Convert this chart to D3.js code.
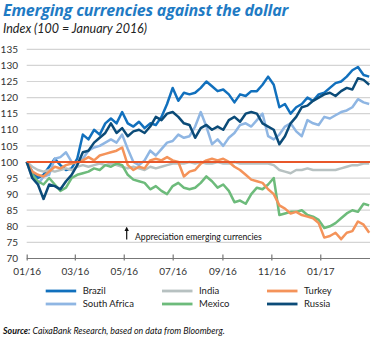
<!DOCTYPE html>
<html><head><meta charset="utf-8">
<script src="https://cdn.jsdelivr.net/npm/d3@7/dist/d3.min.js"></script>
<style>
body{margin:0;background:#fff}
svg{display:block;font-family:Lato,"Open Sans",sans-serif}
</style>
</head><body>
<svg id="chart" width="374" height="338"></svg>
<script>
// ---- data ----
const firstWeek = "2016-01-01";   // weekly observations start
const lastDate = "2017-03-04";
const yTicks = [70,75,80,85,90,95,100,105,110,115,120,125,130,135];
const xTickDates = ["2016-01-01","2016-03-01","2016-05-01","2016-07-01","2016-09-01","2016-11-01","2017-01-01"];
const xTickLabels = ["01/16","03/16","05/16","07/16","09/16","11/16","01/17"];
const seriesNames = ["Brazil","South Africa","India","Mexico","Turkey","Russia"];
const seriesColors = ["#1170bd","#8fb6e3","#b7c1c1","#6dbb7b","#f4935a","#0b4b78"];

const brazil = [100,97,95,96,98.5,101,99,97.5,98,101,108.5,107,110,108.5,112,113.5,112,115.5,112,111,
  112.5,110.5,112,111.5,114,118,123,119,121.5,121,121.5,123,125,123.5,122,122.5,121,118.5,121,120.5,
  122,122,124,126.5,124,117,118,115,117,118,120,119,121,121.5,123,124.5,125,126.5,128.5,129.5,127,126.5];
const southAfrica = [100,95,93,95.5,96,101,101.5,103,100,99.5,101,103.5,104.5,105,106,107,106,108.5,104,100,
  99,100.5,103.5,102,104,106,106.5,108.5,107.5,108,111,115.5,111,105.5,107,105,107.5,109,111.5,112,
  111,113,115,108,107,108.5,111,112,109.5,108,113,112,111.5,114,113.5,114.5,115.5,116,117,119.5,118.5,118];
const india = [100,98.5,97.5,97,97.5,97,97.5,98,97.5,98.5,99,98.5,99,99.5,99,99.5,99,98.5,98,98.5,
  98,97.5,98.5,98,98.5,99,99.5,99.5,99.5,100,99.5,100,99.5,99.5,100,99.5,99.5,100,99.5,99.5,
  99.5,99.5,99.5,99.5,99,97.5,97,96.5,97.5,97.5,98,97.5,97.5,97.5,97.5,97.5,98,98.5,99,99,99.5,99.5];
const mexico = [100,96,94,93,95,93,91,92,95,96,96.5,97,98,97.5,99,98.5,99.5,99,96,94.5,
  94,93.5,91.5,92.5,91,90,92.5,93.5,92,91.5,92,93.5,95.5,94,92,93,91,87.5,88,87,
  90,92,91.5,93,95,83.5,84,84.5,84.5,85,83.5,83,82,79.5,80,81,82.5,84,85,84.5,87,86.5];
const turkey = [100,97,96,95.5,97,98.5,98,99,99.5,100,100.5,101.5,100.5,102,102.5,103,103.5,104.5,99,97.5,
  98.5,98,100.5,101,100.5,101.5,100.5,100,95.5,97,97.5,99.5,100.5,101,100.5,101,100,98.5,97.5,96,
  94.5,94,93.5,91.5,90,86.5,85.5,84,84.5,83.5,83,82.5,81,76.5,77,78,76,78,78.5,81.5,80.5,78];
const russia = [100,95,93,88.5,93,92.5,91.5,94,96,99,103,103.5,106,107.5,109,112,109,110.5,108,109.5,
  110,109,111,114,113,115,115.5,114,112,111.5,107.5,110.5,111.5,110,111,110,113,114,112.5,115,
  115.5,115,112,111,110,105.5,108,112,114,117,117.5,119,120,121,121.5,120.5,122,123,122.5,126,125.5,124];
const seriesValues = [brazil, southAfrica, india, mexico, turkey, russia];

// ---- chart ----
const svg = d3.select("#chart");
const parse = d3.timeParse("%Y-%m-%d");
const t0 = parse(firstWeek);
const dates = brazil.map((_, i) => d3.timeDay.offset(t0, 7 * i));

const x = d3.scaleTime().domain([parse(firstWeek), parse(lastDate)]).range([26.7, 370]);
const y = d3.scaleLinear().domain([70, 135]).range([258.5, 49.3]);

// fit a text element's font size so it spans a target width
function fit(sel, width) {
  const fs = +sel.attr("font-size");
  const w = sel.node().getComputedTextLength();
  if (w > 0) sel.attr("font-size", (fs * width / w).toFixed(2));
  return sel;
}

// title
fit(svg.append("text").attr("x", 3).attr("y", 16)
  .attr("font-size", 14).attr("font-weight", "bold").attr("font-style", "italic")
  .attr("font-family", "'Open Sans',sans-serif").attr("letter-spacing", -0.2)
  .attr("fill", "#1f7bc4").text("Emerging currencies against the dollar"), 284);
fit(svg.append("text").attr("x", 3).attr("y", 33)
  .attr("font-size", 11.5).attr("font-style", "italic").attr("fill", "#222")
  .text("Index (100 = January 2016)"), 144);

// gridlines
svg.append("g").selectAll("line").data(yTicks.filter(d => d > 70)).join("line")
  .attr("x1", 26.7).attr("x2", 370).attr("y1", d => y(d)).attr("y2", d => y(d))
  .attr("stroke", "#d4d4d4").attr("stroke-width", 1.2);

// y axis labels
const yAxis = d3.axisLeft(y).tickValues(yTicks).tickSize(0).tickPadding(0);
const gy = svg.append("g").attr("transform", "translate(18,0)").call(yAxis);
gy.select(".domain").remove();
gy.selectAll("text").attr("font-size", 10).attr("fill", "#333").attr("font-family", "Lato,sans-serif");

// x axis
const xAxis = d3.axisBottom(x).tickValues(xTickDates.map(parse))
  .tickFormat((d, i) => xTickLabels[i]).tickSize(3).tickPadding(6);
const gx = svg.append("g").attr("transform", `translate(0,${y(70)})`).call(xAxis);
gx.select(".domain").attr("d", `M26.7,0H370`).attr("stroke", "#777").attr("stroke-width", 1.2);
gx.selectAll(".tick line").attr("y1", -4).attr("y2", 2).attr("stroke", "#777").attr("stroke-width", 1.2);
gx.selectAll("text").attr("font-size", 10).attr("fill", "#333").attr("font-family", "Lato,sans-serif");

// series
const line = d3.line().x((d, i) => x(dates[i])).y(d => y(d));
svg.append("g").selectAll("path").data(seriesValues).join("path")
  .attr("d", d => line(d)).attr("fill", "none")
  .attr("stroke", (d, i) => seriesColors[i]).attr("stroke-width", 2.5)
  .attr("stroke-linejoin", "round");

// 100 reference line
svg.append("line").attr("x1", 26.7).attr("x2", 370).attr("y1", y(100)).attr("y2", y(100))
  .attr("stroke", "#e8572a").attr("stroke-width", 2);

// annotation
svg.append("defs").append("marker").attr("id", "ah").attr("viewBox", "0 0 10 10")
  .attr("refX", 5).attr("refY", 5).attr("markerWidth", 4).attr("markerHeight", 5)
  .attr("orient", "auto").append("path").attr("d", "M0,0L10,5L0,10Z").attr("fill", "#111");
svg.append("line").attr("x1", 126.7).attr("x2", 126.7).attr("y1", 239.5).attr("y2", 229)
  .attr("stroke", "#111").attr("stroke-width", 1.2).attr("marker-end", "url(#ah)");
fit(svg.append("text").attr("x", 135).attr("y", 240).attr("font-size", 9.3).attr("fill", "#111")
  .text("Appreciation emerging currencies"), 127);

// legend
const legCols = [45.7, 162, 267];
const legRows = [291, 304];
const legendOrder = [0, 2, 4, 1, 3, 5];
const lg = svg.append("g");
legendOrder.forEach((si, k) => {
  const cx = legCols[k % 3], cy = legRows[Math.floor(k / 3)];
  lg.append("line").attr("x1", cx).attr("x2", cx + 30.5).attr("y1", cy).attr("y2", cy)
    .attr("stroke", seriesColors[si]).attr("stroke-width", 2.8);
  lg.append("text").attr("x", cx + 37).attr("y", cy + 3.3).attr("font-size", 9.5)
    .attr("fill", "#222").text(seriesNames[si]);
});

// source
const src = svg.append("text").attr("x", 3).attr("y", 334).attr("font-size", 9)
  .attr("font-style", "italic").attr("fill", "#111");
src.append("tspan").attr("font-weight", "bold").text("Source:");
src.append("tspan").text(" CaixaBank Research, based on data from Bloomberg.");
fit(src, 222);
</script>
</body></html>
